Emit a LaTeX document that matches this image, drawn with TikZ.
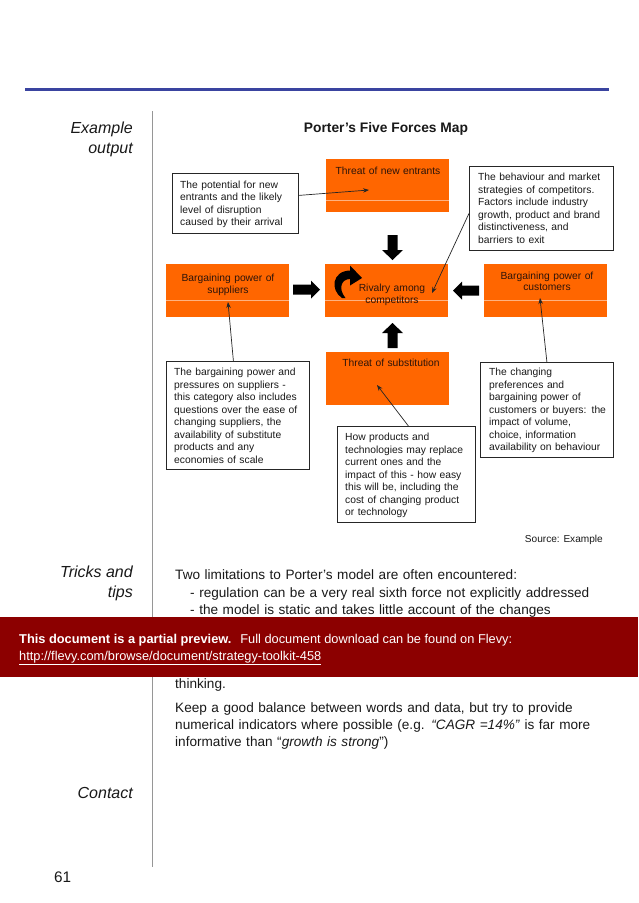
\documentclass[tikz,border=0pt]{standalone}
\usepackage{fontspec}
\setmainfont{Liberation Sans}
\usetikzlibrary{arrows.meta,calc}
\definecolor{porange}{RGB}{255,102,0}
\definecolor{plight}{RGB}{255,178,128}
\definecolor{pblue}{RGB}{58,68,160}
\definecolor{pred}{RGB}{140,0,0}
\definecolor{pgrey}{RGB}{150,150,150}
\definecolor{ptext}{RGB}{25,25,25}
\definecolor{otext}{RGB}{45,20,10}
\tikzset{
  tnudge/.style={yshift=-1.5pt},
  fbox/.style={fill=porange, draw=none, minimum width=123pt, minimum height=53pt, inner sep=0pt},
  fline/.style={draw=plight, line width=0.6pt},
  ftext/.style={font=\fontsize{10.3}{11.8}\selectfont, text=otext, text width=120pt, align=center, inner sep=0pt, anchor=mid, tnudge},
  cbox/.style={draw=black!85, line width=0.8pt, fill=white, inner sep=0pt, anchor=north west},
  ctext/.style={font=\fontsize{10.3}{12.5}\selectfont, text=ptext, text width=150pt, align=left, inner sep=0pt, anchor=mid west, tnudge},
  cline/.style={draw=black!85, line width=0.7pt, -{Stealth[length=6pt,width=4.5pt]}},
  blockarrow/.style={fill=black, draw=none},
  sidelabel/.style={font=\fontsize{16}{20}\selectfont\itshape, text=ptext, inner sep=0pt, anchor=mid east, tnudge},
  bodytext/.style={font=\fontsize{13.6}{17}\selectfont, text=ptext, inner sep=0pt, anchor=mid west, align=left, text width=460pt, tnudge},
  bannertext/.style={font=\fontsize{12.8}{17}\selectfont, text=white, inner sep=0pt, anchor=mid west, tnudge}
}
\begin{document}
\begin{tikzpicture}[x=1pt,y=-1pt]
\useasboundingbox (0,0) rectangle (638,903);
\fill[white] (0,0) rectangle (638,903);

% header rule and column rule
\draw[pblue, line width=3pt] (25,89.5) -- (609,89.5);
\draw[pgrey, line width=1.1pt] (152.5,111) -- (152.5,867);

% left labels
\node[sidelabel] (ex1) at (133,129) {Example};
\node[sidelabel] (ex2) at (133,149) {output};
\node[sidelabel] (tr1) at (133,573) {Tricks and};
\node[sidelabel] (tr2) at (133,593) {tips};
\node[sidelabel] (ct) at (133,794) {Contact};

% title
\node[font=\fontsize{13.8}{16}\selectfont\bfseries, text=ptext, inner sep=0pt, anchor=mid, tnudge] (title) at (386,128) {Porter’s Five Forces Map};

% orange boxes
\node[fbox] (ne) at (387.5,185.5) {};
\draw[fline] (ne.west |- 0,200.7) -- (ne.east |- 0,200.7);
\node[ftext] (net) at (388,170.5) {Threat of new entrants};

\node[fbox] (sup) at (227.5,290.5) {};
\draw[fline] (sup.west |- 0,300) -- (sup.east |- 0,300);
\node[ftext] (supt) at (228,277.5) {Bargaining power of\\suppliers};

\node[fbox] (riv) at (386.5,290.5) {};
\draw[fline] (riv.west |- 0,300) -- (riv.east |- 0,300);
\node[ftext] (rivt) at (392,287.7) {Rivalry among\\competitors};

\node[fbox] (cus) at (545.5,290.5) {};
\draw[fline] (cus.west |- 0,300) -- (cus.east |- 0,300);
\node[ftext] (cust) at (547,275) {Bargaining power of\\customers};

\node[fbox] (sub) at (387.5,378.5) {};
\node[ftext] (subt) at (391,362.3) {Threat of substitution};

% curved arrow inside rivalry box
\fill[black] (342,298) .. controls (330,290) and (332,271) .. (350,270.5)
  -- (350,265.5) -- (362,278) -- (350,285.5) -- (350,279)
  .. controls (341,279) and (338,289) .. (345.5,298) -- cycle;

% block arrows
\coordinate (tipd) at (392.5,260);
\coordinate (tipr) at (320,289.5);
\coordinate (tipl) at (453,290.5);
\coordinate (tipu) at (392.5,323);
\fill[blockarrow, shift={(tipd)}] (0,0) -- (10.5,-10) -- (5,-10) -- (5,-25) -- (-5,-25) -- (-5,-10) -- (-10.5,-10) -- cycle;
\fill[blockarrow, shift={(tipu)}] (0,0) -- (10.5,10) -- (5,10) -- (5,25) -- (-5,25) -- (-5,10) -- (-10.5,10) -- cycle;
\fill[blockarrow, shift={(tipr)}] (0,0) -- (-9,-9) -- (-9,-5) -- (-27,-5) -- (-27,5) -- (-9,5) -- (-9,9) -- cycle;
\fill[blockarrow, shift={(tipl)}] (0,0) -- (9,-9) -- (9,-5) -- (26,-5) -- (26,5) -- (9,5) -- (9,9) -- cycle;

% callouts
\node[cbox, minimum width=126pt, minimum height=60pt] (c1) at (172,173) {};
\node[ctext] (c1t) at (180,184.3) {The potential for new\\entrants and the likely\\level of disruption\\caused by their arrival};

\node[cbox, minimum width=144pt, minimum height=84pt] (c2) at (469,166) {};
\node[ctext] (c2t) at (478,176.7) {The behaviour and market\\strategies of competitors.\\Factors include industry\\growth, product and brand\\distinctiveness, and\\barriers to exit};

\node[cbox, minimum width=143pt, minimum height=108pt] (c3) at (166,361) {};
\node[ctext] (c3t) at (174,371.7) {The bargaining power and\\pressures on suppliers -\\this category also includes\\questions over the ease of\\changing suppliers, the\\availability of substitute\\products and any\\economies of scale};

\node[cbox, minimum width=138pt, minimum height=96pt] (c4) at (337,426) {};
\node[ctext] (c4t) at (345,436.7) {How products and\\technologies may replace\\current ones and the\\impact of this - how easy\\this will be, including the\\cost of changing product\\or technology};

\node[cbox, minimum width=133pt, minimum height=95pt] (c5) at (480,362) {};
\node[ctext] (c5t) at (489,371.7) {The changing\\preferences and\\bargaining power of\\customers or buyers: the\\impact of volume,\\choice, information\\availability on behaviour};

% callout pointers
\coordinate (a1e) at (369,190);
\coordinate (a2e) at (432,293);
\coordinate (a3e) at (228,302);
\coordinate (a4e) at (377,385);
\coordinate (a5e) at (540,298);
\draw[cline] ([yshift=8pt]c1.east) -- (a1e);
\draw[cline] ([yshift=-5pt]c2.west) -- (a2e);
\draw[cline] ([xshift=-4.5pt]c3.north) -- (a3e);
\draw[cline] ([xshift=2pt]c4.north) -- (a4e);
\draw[cline] (c5.north) -- (a5e);

% source
\node[font=\fontsize{10.1}{12}\selectfont, text=ptext, inner sep=0pt, anchor=mid east, tnudge] (src) at (603,538) {Source: Example};

% tricks and tips text
\node[bodytext] (tt1) at (175,575) {Two limitations to Porter’s model are often encountered:};
\node[bodytext] (tt2) at (190,593) {- regulation can be a very real sixth force not explicitly addressed\\- the model is static and takes little account of the changes};

% banner
\node[fill=pred, draw=none, minimum width=638pt, minimum height=60pt, inner sep=0pt, anchor=north west] (banner) at (0,617) {};
\node[bannertext] (bt1) at (19,639) {\textbf{This document is a partial preview.}\hspace{9pt}Full document download can be found on Flevy:};
\node[bannertext] (bt2) at (19,656) {\underline{http://flevy.com/browse/document/strategy-toolkit-458}};

\node[bodytext] (tt3) at (175,684) {thinking.};
\node[bodytext] (tt4) at (175,708) {Keep a good balance between words and data, but try to provide\\numerical indicators where possible (e.g. \textit{“CAGR =14\%”} is far more\\informative than “\textit{growth is strong}”)};

% page number
\node[font=\fontsize{15.3}{18}\selectfont, text=ptext, inner sep=0pt, anchor=mid west, tnudge] (pg) at (54,878) {61};
\end{tikzpicture}
\end{document}
